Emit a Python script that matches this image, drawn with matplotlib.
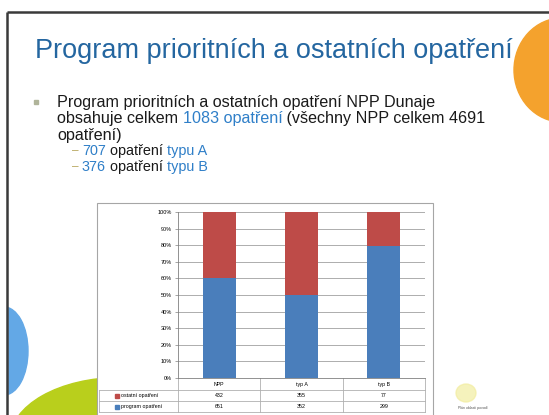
import matplotlib
matplotlib.use('Agg')
import matplotlib.pyplot as plt
import numpy as np
from matplotlib.patches import Ellipse, Rectangle
from matplotlib.transforms import blended_transform_factory

plt.rcParams['font.family'] = ['Liberation Sans', 'DejaVu Sans']

# data
kategorie = ['NPP', 'typ A', 'typ B']
program_opatreni = [651, 352, 299]
ostatni_opatreni = [432, 355, 77]
rady = ['ostatní opatření', 'program opatření']
barva_program = '#4a7ebb'
barva_ostatni = '#be4b48'

W, H = 549, 415
fig = plt.figure(figsize=(5.49, 4.15), dpi=100)

# slide background (pixel coordinates)
bg = fig.add_axes([0, 0, 1, 1])
bg.set_xlim(0, W)
bg.set_ylim(H, 0)
bg.axis('off')
bg.add_patch(Ellipse((562, 70), 96, 104, color='#f4a22d'))
bg.add_patch(Ellipse((4, 351), 48, 88, color='#63a8e6'))
bg.add_patch(Ellipse((120, 440), 220, 125, color='#b9cf1c'))
bg.add_patch(Rectangle((0, 0), 7, H, color='white'))
bg.plot([7, W], [12, 12], color='#3a3a3a', lw=1.8, solid_capstyle='butt')
bg.plot([7, 7], [12, H], color='#3a3a3a', lw=1.8, solid_capstyle='butt')
bg.add_patch(Rectangle((97, 203), 336, 230, facecolor='white', edgecolor='#a6a6a6', lw=0.8))
bg.plot([36], [102], marker='s', ms=2.5, color='#b0b49a')


def fx(x):
    return x / W


def fy(y):
    return 1 - y / H


fig.text(fx(35), fy(51), 'Program prioritních a ostatních opatření', fontsize=19.5,
         color='#2466a0', va='center', ha='left')

renderer = fig.canvas.get_renderer()


def sirka(s, size):
    t = fig.text(0, 0, s + '|', fontsize=size)
    w = t.get_window_extent(renderer=renderer).width
    t.remove()
    t2 = fig.text(0, 0, '|', fontsize=size)
    w2 = t2.get_window_extent(renderer=renderer).width
    t2.remove()
    return w - w2


def radek(x, y, casti, size=11.6):
    hotovo = ''
    for s, c in casti:
        fig.text(fx(x + sirka(hotovo, size)) if hotovo else fx(x), fy(y), s, fontsize=size,
                 color=c, va='center', ha='left')
        hotovo += s


cerna = '#1a1a1a'
modra = '#2f7fc8'
radek(57, 102, [('Program prioritních a ostatních opatření NPP Dunaje', cerna)])
radek(57, 119, [('obsahuje celkem ', cerna), ('1083 opatření', modra), (' (všechny NPP celkem 4691', cerna)])
radek(57, 135, [('opatření)', cerna)])
radek(72, 151, [('–', '#b8a860')], size=8.5)
radek(82, 151, [('707', modra), (' opatření ', cerna), ('typu A', modra)], size=10.4)
radek(72, 167, [('–', '#b8a860')], size=8.5)
radek(82, 167, [('376', modra), (' opatření ', cerna), ('typu B', modra)], size=10.4)

# logo text
fig.text(fx(458), fy(408), 'Plán oblasti povodí', fontsize=2.5, color='#555555', va='center')
bg.add_patch(Ellipse((466, 393), 20, 18, color='#f2eda0', alpha=0.7))

# chart
ax = fig.add_axes([fx(178), fy(378), 247 / W, 166 / H])
x = np.arange(len(kategorie))
prog = np.array(program_opatreni, dtype=float)
ost = np.array(ostatni_opatreni, dtype=float)
celkem = prog + ost
ax.bar(x, prog / celkem, 0.4, color=barva_program, zorder=3)
ax.bar(x, ost / celkem, 0.4, bottom=prog / celkem, color=barva_ostatni, zorder=3)
ax.set_xlim(-0.5, 2.5)
ax.set_ylim(0, 1)
ax.set_yticks(np.arange(0, 1.01, 0.1))
ax.set_yticklabels([f'{int(round(v * 100))}%' for v in np.arange(0, 1.01, 0.1)], fontsize=4)
ax.set_xticks([])
ax.yaxis.grid(True, color='#a0a0a0', lw=0.6, zorder=0)
for s in ['top', 'right']:
    ax.spines[s].set_visible(False)
ax.spines['left'].set_color('#808080')
ax.spines['bottom'].set_color('#808080')
ax.spines['left'].set_linewidth(0.6)
ax.spines['bottom'].set_linewidth(0.6)
ax.tick_params(axis='y', length=2.5, width=0.5, color='#808080', pad=2)

# data table under the chart
tr = blended_transform_factory(ax.transData, ax.transAxes)
px = 1 / 166
radky_y = [0, -12 * px, -23 * px, -34 * px]
carovka = dict(color='#b0b0b0', lw=0.6, clip_on=False)
for hranice in np.arange(-0.5, 2.6, 1):
    ax.plot([hranice, hranice], [radky_y[0], radky_y[-1]], transform=tr, **carovka)
for yy in radky_y[1:]:
    ax.plot([-0.5, 2.5], [yy, yy], transform=tr, **carovka)
levy = -79 / 247
ax.plot([levy, 0], [radky_y[1], radky_y[1]], transform=ax.transAxes, **carovka)
ax.plot([levy, 0], [radky_y[2], radky_y[2]], transform=ax.transAxes, **carovka)
ax.plot([levy, 0], [radky_y[3], radky_y[3]], transform=ax.transAxes, **carovka)
ax.plot([levy, levy], [radky_y[1], radky_y[3]], transform=ax.transAxes, **carovka)

for i, k in enumerate(kategorie):
    ax.text(i, (radky_y[0] + radky_y[1]) / 2, k, transform=tr, fontsize=3.8,
            ha='center', va='center', clip_on=False)
    ax.text(i, (radky_y[1] + radky_y[2]) / 2, str(ostatni_opatreni[i]), transform=tr,
            fontsize=3.8, ha='center', va='center', clip_on=False)
    ax.text(i, (radky_y[2] + radky_y[3]) / 2, str(program_opatreni[i]), transform=tr,
            fontsize=3.8, ha='center', va='center', clip_on=False)

for j, (nazev, barva) in enumerate(zip(rady, [barva_ostatni, barva_program])):
    yc = (radky_y[j + 1] + radky_y[j + 2]) / 2
    ax.add_patch(Rectangle((-63 / 247, yc - 2 * px), 4 / 247, 4 * px, transform=ax.transAxes,
                           color=barva, clip_on=False))
    ax.text(-57 / 247, yc, nazev, transform=ax.transAxes, fontsize=3.8,
            ha='left', va='center', clip_on=False)

fig.savefig('out.png', dpi=100)
